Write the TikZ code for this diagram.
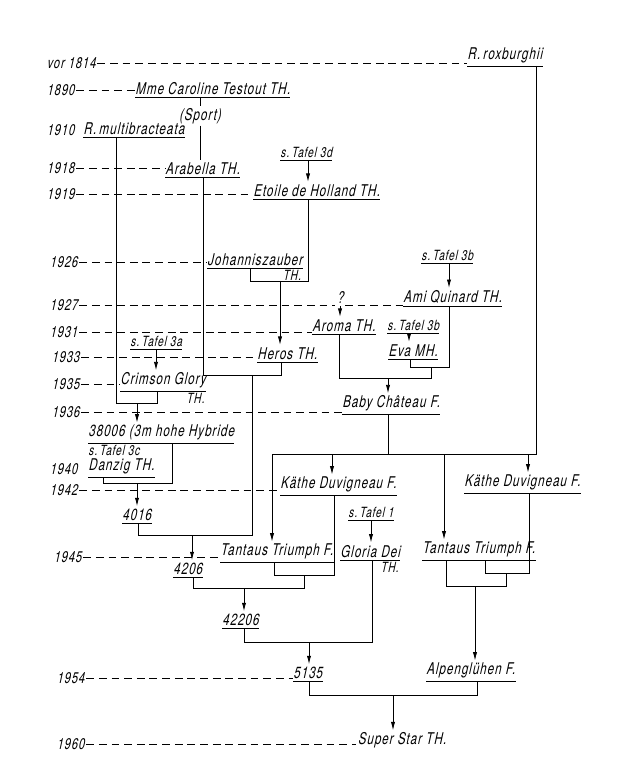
\documentclass[tikz,border=0pt]{standalone}
\usepackage{fontspec}
\newfontfamily\rosefont[FakeStretch=0.72, FakeSlant=0.22, LetterSpace=6]{TeX Gyre Heros}
\usepackage{tikz}
\usetikzlibrary{arrows.meta, positioning, calc}
\tikzset{
  rose/.style={anchor=south west, inner xsep=0pt, inner ysep=1.5pt,
    font=\rosefont\fontsize{11.5}{13}\selectfont,
    append after command={(\tikzlastnode.south west) edge (\tikzlastnode.south east)}},
  tafel/.style={rose, font=\rosefont\fontsize{10}{12}\selectfont},
  bare/.style={inner sep=1pt, font=\rosefont\fontsize{11.5}{13}\selectfont},
  thlabel/.style={anchor=north east, inner sep=1pt, font=\rosefont\fontsize{10}{12}\selectfont},
  yearnode/.style={anchor=west, inner sep=1pt, font=\rosefont\fontsize{11}{13}\selectfont},
  yearline/.style={dash pattern=on 5.5pt off 3.5pt, line width=0.5pt},
  arr/.style={-{Latex[length=6pt,width=3pt]}}
}
\begin{document}
\begin{tikzpicture}[x=0.025cm, y=-0.025cm, line width=0.6pt]
  \useasboundingbox (0,0) rectangle (620,766);
  % roses, placed at the left end of their underline
  \node[rose] (roxb) at (467,66) {R.\,roxburghii};
  \node[rose] (mct) at (135,97) {Mme Caroline Testout TH.};
  \node[bare] (sport) at (200,116) {(Sport)};
  \node[rose] (mb) at (83,137) {R.\,multibracteata};
  \node[rose] (arab) at (165,177) {Arabella TH.};
  \node[tafel] (t3d) at (280,160) {s.\,Tafel 3d};
  \node[rose] (etoile) at (253,199) {Etoile de Holland TH.};
  \node[rose] (jz) at (207,268) {Johanniszauber};
  \node[thlabel] (jzth) at (jz.south east) {TH.};
  \node[tafel] (t3b) at (421,263) {s.\,Tafel 3b};
  \node[rose] (aq) at (403,306) {Ami Quinard TH.};
  \node[bare] (quest) at (340,298) {?};
  \node[rose] (aroma) at (312,334) {Aroma TH.};
  \node[tafel] (t3bb) at (387,333) {s.\,Tafel 3b};
  \node[rose] (eva) at (388,359) {Eva MH.};
  \node[tafel] (t3a) at (130,349) {s.\,Tafel 3a};
  \node[rose] (heros) at (257,362) {Heros TH.};
  \node[rose] (cg) at (120,391) {Crimson Glory};
  \node[thlabel] (cgth) at (cg.south east) {TH.};
  \node[rose] (baby) at (342,414) {Baby Château F.};
  \node[rose] (hyb) at (88,443) {38006 (3m hohe Hybride};
  \node[bare, anchor=south west, inner xsep=0pt, inner ysep=0.3pt, font=\rosefont\fontsize{10}{12}\selectfont] (t3c) at (88,457) {s.\,Tafel 3c};
  \node[rose] (danzig) at (88,477) {Danzig TH.};
  \node[rose] (kd1) at (280,495) {Käthe Duvigneau F.};
  \node[rose] (kd2) at (464,493) {Käthe Duvigneau F.};
  \node[rose] (n4016) at (122,523) {4016};
  \node[tafel] (t1) at (348,520) {s.\,Tafel 1};
  \node[rose] (tt1) at (220,562) {Tantaus Triumph F.};
  \node[rose] (gd) at (340,560) {Gloria Dei};
  \node[thlabel] (gdth) at (gd.south east) {TH.};
  \node[rose] (tt2) at (422,560) {Tantaus Triumph F.};
  \node[rose] (n4206) at (173,577) {4206};
  \node[rose] (n42206) at (222,628) {42206};
  \node[rose] (n5135) at (293,681) {5135};
  \node[rose] (alp) at (426,681) {Alpenglühen F.};
  \node[bare] (ss) at (402,740) {Super Star TH.};
  % years and their dashed lines
  \foreach \yr/\yy/\yx in {vor 1814/63/45, 1890/90/45, 1910/130/45, 1918/168/45,
      1919/194/45, 1926/262/48, 1927/305/48, 1931/332/48, 1933/357/50, 1935/384/50,
      1936/412/50, 1940/469/48, 1942/490/48, 1945/557/52, 1954/678/55, 1960/744/55}
    \node[yearnode] (y\yy) at (\yx,\yy) {\yr};
  \foreach \yy/\target in {63/roxb, 90/mct, 168/arab, 194/etoile, 262/jz, 332/aroma,
      357/heros, 384/cg, 412/baby, 490/kd1, 557/tt1, 678/n5135, 744/ss}
    \draw[yearline] (y\yy.east) -- (y\yy.east -| \target.west);
  \draw[yearline] (y305.east) -- (y305.east -| quest.west);
  \draw[yearline] (y305.east -| quest.east) -- (y305.east -| aq.west);
  % lines of descent
  \draw (mct.south -| 200,0) -- (sport.north);
  \draw (sport.south) -- (arab.north -| 200,0);
  \draw[arr] (t3d.south -| 308,0) -- (etoile.north -| 308,0);
  \draw (jz.south -| 250,0) |- (308,281) -- (etoile.south -| 308,0);
  \draw[arr] (280,281) -- (heros.north -| 280,0);
  \draw (arab.south -| 203,0) |- (281,375) -- (heros.south -| 281,0);
  \draw[arr] (t3b.south -| 449,0) -- (aq.north -| 449,0);
  \draw[arr] (quest.south) -- (aroma.north -| 340,0);
  \draw[arr] (t3bb.south -| 409,0) -- (eva.north -| 409,0);
  \draw (aq.south -| 449,0) |- (410,367) -- (eva.south -| 410,0);
  \draw (aroma.south -| 339,0) |- (431,378) -- (431,367);
  \draw[arr] (388,378) -- (baby.north -| 388,0);
  \draw[arr] (t3a.south -| 156,0) -- (cg.north -| 156,0);
  \draw (mb.south -| 116,0) |- (157,403) -- (cg.south -| 157,0);
  \draw[arr] (137,403) -- (hyb.north -| 137,0);
  \draw (hyb.south -| 172,0) |- (103,483) -- (danzig.south -| 103,0);
  \draw[arr] (137,483) -- (n4016.north -| 137,0);
  \draw (252,375) |- (138,535) -- (n4016.south -| 138,0);
  \draw[arr] (192,535) -- (n4206.north -| 192,0);
  % Baby Chateau x R. roxburghii
  \coordinate (bar) at (388,454);
  \draw (baby.south -| 388,0) -- (bar);
  \draw (roxb.south -| 536,0) |- (bar -| 272,0);
  \foreach \bx/\target in {272/tt1, 332/kd1, 444/tt2, 528/kd2}
    \draw[arr] (bar -| \bx,0) -- (\target.north -| \bx,0);
  \draw (tt1.south -| 274,0) |- (334,575) -- (kd1.south -| 334,0);
  \draw (304,575) |- (193,588) -- (n4206.south -| 193,0);
  \draw[arr] (244,588) -- (n42206.north -| 244,0);
  \draw[arr] (t1.south -| 371,0) -- (gd.north -| 371,0);
  \draw (gd.south -| 372,0) |- (244,642) -- (n42206.south -| 244,0);
  \draw[arr] (309,642) -- (n5135.north -| 309,0);
  \draw (tt2.south -| 485,0) |- (529,573) -- (kd2.south -| 529,0);
  \draw (506,573) |- (446,586) -- (tt2.south -| 446,0);
  \draw[arr] (475,586) -- (alp.north -| 475,0);
  \draw (n5135.south -| 309,0) |- (477,695) -- (alp.south -| 477,0);
  \draw[arr] (393,695) -- (ss.north -| 393,0);
\end{tikzpicture}
\end{document}
